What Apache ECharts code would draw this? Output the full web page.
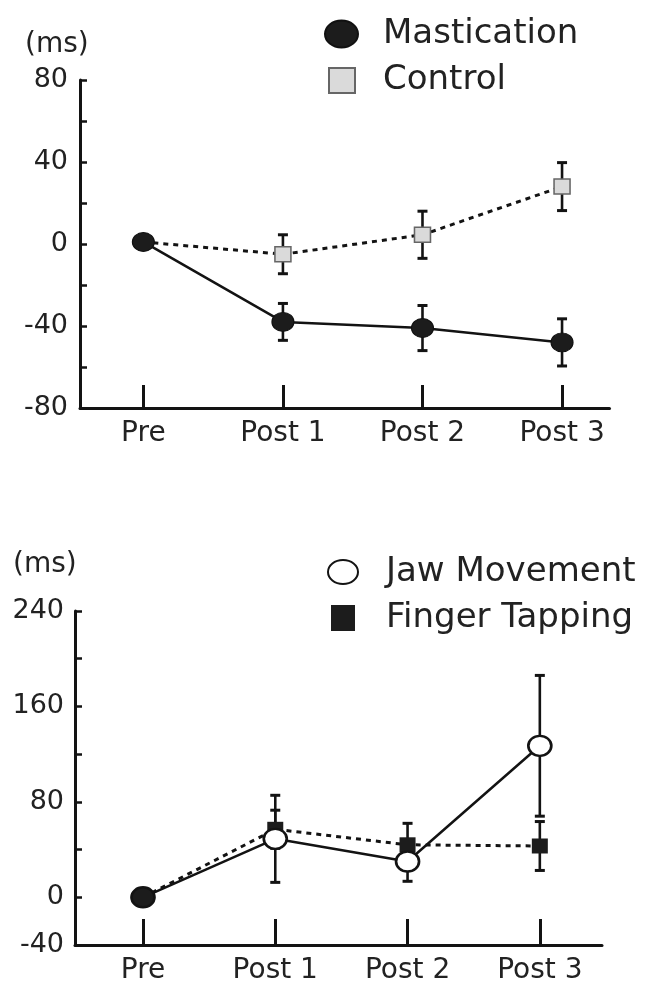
<!DOCTYPE html>
<html><head><meta charset="utf-8">
<script src="https://cdn.jsdelivr.net/npm/echarts@6/dist/echarts.min.js"></script>
<style>html,body{margin:0;padding:0;background:#fff}#c{width:648px;height:985px}</style>
</head><body><div id="c"></div>
<script>
const categories = ['Pre', 'Post 1', 'Post 2', 'Post 3'];
const masticationMean = [1, -38, -41, -48];
const masticationSE = [null, 9, 11, 11.5];
const controlMean = [1, -5, 4.5, 28];
const controlSE = [null, 9.5, 11.5, 11.7];
const jawMean = [0, 49, 30, 127];
const jawSE = [null, 36.5, 16.6, 59];
const fingerMean = [0, 57, 44, 43];
const fingerSE = [null, 16, 18, 20.5];
const topTickLabels = [-80, -40, 0, 40, 80];
const bottomTickLabels = [-40, 0, 80, 160, 240];

const FONT = 'DejaVu Sans';
const INK = '#131313';
const TXT = '#222';
const ELL = 'path://M0,50 A50,50 0 1,0 100,50 A50,50 0 1,0 0,50 Z';
const catIdx = categories.map((c, i) => i);

function pts(arr) { return arr.map((v, i) => [i, v]); }
function errPts(mean, se) {
  const out = [];
  mean.forEach((m, i) => { if (se[i] != null) out.push([i, m, se[i]]); });
  return out;
}
function errRender(params, api) {
  const x = api.value(0), y = api.value(1), e = api.value(2);
  const hi = api.coord([x, y + e]), lo = api.coord([x, y - e]);
  const w = 5;
  return { type: 'group', children: [
    { type: 'line', shape: { x1: hi[0], y1: hi[1], x2: lo[0], y2: lo[1] }, style: { stroke: INK, lineWidth: 2.6 } },
    { type: 'line', shape: { x1: hi[0] - w, y1: hi[1], x2: hi[0] + w, y2: hi[1] }, style: { stroke: INK, lineWidth: 3 } },
    { type: 'line', shape: { x1: lo[0] - w, y1: lo[1], x2: lo[0] + w, y2: lo[1] }, style: { stroke: INK, lineWidth: 3 } }
  ]};
}
function xAxisCfg(gi, min, max, tickLen, fs, margin) {
  return {
    type: 'value', gridIndex: gi, min: min, max: max,
    axisLine: { onZero: false, lineStyle: { color: INK, width: 3 } },
    splitLine: { show: false },
    axisTick: { inside: true, length: tickLen, customValues: catIdx, lineStyle: { color: INK, width: 3 } },
    axisLabel: { customValues: catIdx, formatter: v => categories[Math.round(v)], fontSize: fs, fontFamily: FONT, color: TXT, margin: margin }
  };
}
function yAxisCfg(gi, min, max, interval, labels, fs, margin, pad) {
  return {
    type: 'value', gridIndex: gi, min: min, max: max, interval: interval,
    axisLine: { show: true, onZero: false, lineStyle: { color: INK, width: 3 } },
    splitLine: { show: false },
    axisTick: { show: true, inside: true, length: 7, lineStyle: { color: INK, width: 2.5 } },
    axisLabel: { formatter: v => labels.includes(v) ? String(v) : '', fontSize: fs, fontFamily: FONT, color: TXT, margin: margin, padding: [pad, 0, 0, 0] }
  };
}
function legendCfg(name, icon, left, top, w, h, fs, padLeft) {
  return {
    data: [{ name: name, icon: icon }], left: left, top: top, padding: 0,
    itemWidth: w, itemHeight: h, selectedMode: false, symbolKeepAspect: false,
    textStyle: { fontSize: fs, fontFamily: FONT, color: TXT, padding: [0, 0, 0, padLeft] }
  };
}

const option = {
  animation: false,
  backgroundColor: '#fff',
  grid: [
    { left: 80, right: 38.5, top: 80, height: 328 },
    { left: 75, right: 46, top: 611, height: 335 }
  ],
  xAxis: [
    xAxisCfg(0, -0.454, 3.34, 23, 28, 12),
    xAxisCfg(1, -0.514, 3.47, 26, 28, 12)
  ],
  yAxis: [
    yAxisCfg(0, -80, 80, 20, topTickLabels, 27, 12, 7),
    yAxisCfg(1, -40, 240, 40, bottomTickLabels, 27, 11, 0)
  ],
  legend: [
    legendCfg('Mastication', ELL, 324, 17, 33, 27, 34, 20),
    legendCfg('Control', 'rect', 328, 63.5, 26, 25, 34, 23),
    legendCfg('Jaw Movement', ELL, 327, 555, 30, 24, 34, 23),
    legendCfg('Finger Tapping', 'rect', 331, 601, 24, 26, 34, 26)
  ],
  graphic: [
    { type: 'text', left: 25, top: 31, style: { text: '(ms)', font: '28px "' + FONT + '"', fill: TXT } },
    { type: 'text', left: 13, top: 551, style: { text: '(ms)', font: '28px "' + FONT + '"', fill: TXT } }
  ],
  series: [
    { type: 'custom', name: 'errC', xAxisIndex: 0, yAxisIndex: 0, data: errPts(controlMean, controlSE), renderItem: errRender, z: 1, silent: true },
    { type: 'custom', name: 'errM', xAxisIndex: 0, yAxisIndex: 0, data: errPts(masticationMean, masticationSE), renderItem: errRender, z: 1, silent: true },
    { type: 'line', name: 'Control', xAxisIndex: 0, yAxisIndex: 0, z: 2, silent: true,
      data: pts(controlMean).map((p, i) => i === 0 ? { value: p, symbol: 'none' } : p),
      symbol: 'rect', symbolSize: [16, 15],
      itemStyle: { color: '#dadada', borderColor: '#666', borderWidth: 1.5 },
      lineStyle: { color: INK, width: 3, type: [5, 5] } },
    { type: 'line', name: 'Mastication', xAxisIndex: 0, yAxisIndex: 0, z: 3, silent: true,
      data: pts(masticationMean),
      symbol: ELL, symbolSize: [22, 19],
      itemStyle: { color: '#1c1c1c', borderColor: '#111', borderWidth: 1 },
      lineStyle: { color: INK, width: 2.5 } },
    { type: 'custom', name: 'errJ', xAxisIndex: 1, yAxisIndex: 1, data: errPts(jawMean, jawSE), renderItem: errRender, z: 1, silent: true },
    { type: 'custom', name: 'errF', xAxisIndex: 1, yAxisIndex: 1, data: errPts(fingerMean, fingerSE), renderItem: errRender, z: 1, silent: true },
    { type: 'line', name: 'Finger Tapping', xAxisIndex: 1, yAxisIndex: 1, z: 2, silent: true,
      data: pts(fingerMean).map((p, i) => i === 0 ? { value: p, symbol: 'none' } : p),
      symbol: 'rect', symbolSize: [16, 15],
      itemStyle: { color: '#1c1c1c' },
      lineStyle: { color: INK, width: 3, type: [5, 5] } },
    { type: 'line', name: 'Jaw Movement', xAxisIndex: 1, yAxisIndex: 1, z: 3, silent: true,
      data: pts(jawMean).map((p, i) => i === 0 ? { value: p, itemStyle: { color: '#1c1c1c' } } : p),
      symbol: ELL, symbolSize: [23, 20],
      itemStyle: { color: '#fff', borderColor: INK, borderWidth: 2.5 },
      lineStyle: { color: INK, width: 2.5 } }
  ]
};
echarts.init(document.getElementById('c'), null, { renderer: 'canvas' }).setOption(option);
</script>
</body></html>
